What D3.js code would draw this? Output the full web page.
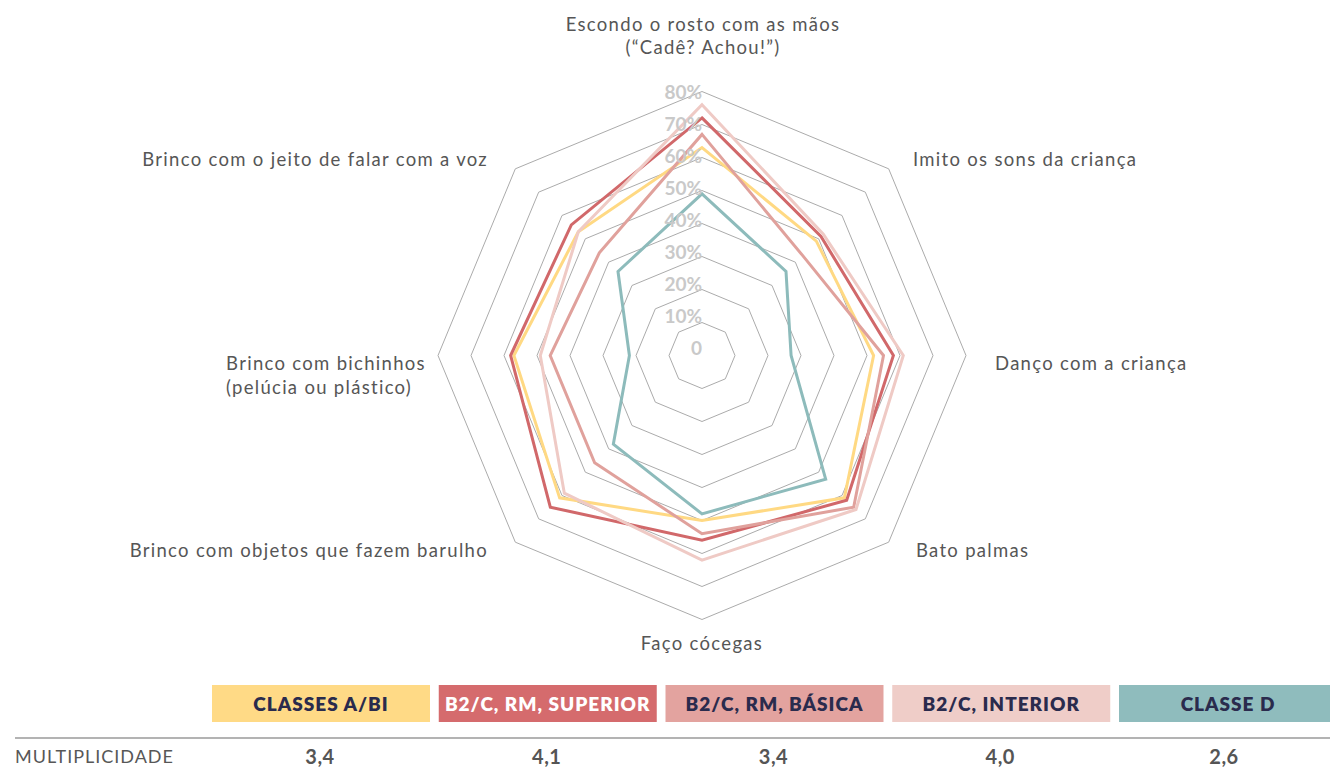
<!DOCTYPE html>
<html>
<head>
<meta charset="utf-8">
<script src="https://cdn.jsdelivr.net/npm/d3@7"></script>
<style>
  html, body { margin: 0; padding: 0; background: #fff; }
  svg { display: block; }
  text { font-family: Lato, "Open Sans", sans-serif; }
</style>
</head>
<body>
<svg id="chart" width="1330" height="771"></svg>
<script>
// Activities (spokes, clockwise from the top)
const axes = [
  ["Escondo o rosto com as mãos", "(“Cadê? Achou!”)"],
  ["Imito os sons da criança"],
  ["Danço com a criança"],
  ["Bato palmas"],
  ["Faço cócegas"],
  ["Brinco com objetos que fazem barulho"],
  ["Brinco com bichinhos", "(pelúcia ou plástico)"],
  ["Brinco com o jeito de falar com a voz"]
];

// Share of parents (%) per group, in spoke order
const classesAB1   = [63, 49, 52, 61, 50, 61, 57, 53];
const rmSuperior   = [72, 51, 58, 62, 56, 65, 58, 56];
const rmBasica     = [67, 43, 55, 65, 54, 46, 46, 44];
const interior     = [76, 52, 61, 66, 62, 59, 49, 53];
const classeD      = [49, 36, 27, 53, 48, 38, 22, 36];

const groups = ["CLASSES A/BI", "B2/C, RM, SUPERIOR", "B2/C, RM, BÁSICA", "B2/C, INTERIOR", "CLASSE D"];
const multiplicidade = ["3,4", "4,1", "3,4", "4,0", "2,6"];

const ringTicks = [10, 20, 30, 40, 50, 60, 70, 80];
const tickLabels = ["0", "10%", "20%", "30%", "40%", "50%", "60%", "70%", "80%"];
const tickValues = [0, 10, 20, 30, 40, 50, 60, 70, 80];

const seriesValues = [classesAB1, rmSuperior, rmBasica, interior, classeD];
const lineColors = ["#FFD983", "#D1686A", "#E0A19C", "#EFCAC5", "#8DBBBB"];
const boxColors  = ["#FFDA86", "#D56B6D", "#E3A39F", "#EFCDC8", "#8FBCBD"];
const boxText    = ["#2A2B4D", "#FFFFFF", "#2A2B4D", "#2A2B4D", "#2A2B4D"];

const svg = d3.select("#chart");
const cx = 702, cy = 355.5;

const r = d3.scaleLinear().domain([0, 80]).range([0, 264]);
const angle = d3.scaleLinear().domain([0, axes.length]).range([0, 2 * Math.PI]);
const tickY = d3.scaleLinear().domain([0, 80]).range([348, 92.5]);

const g = svg.append("g").attr("transform", `translate(${cx},${cy})`);

const radial = d3.lineRadial()
  .angle((d, i) => angle(i))
  .radius(d => r(d))
  .curve(d3.curveLinearClosed);

// Grid rings (octagons)
g.selectAll("path.ring")
  .data(ringTicks)
  .join("path")
  .attr("class", "ring")
  .attr("d", t => radial(axes.map(() => t)))
  .attr("fill", "none")
  .attr("stroke", "#ababab")
  .attr("stroke-width", 1);

// Ring labels along the top spoke
svg.append("g")
  .selectAll("text")
  .data(tickValues)
  .join("text")
  .attr("x", cx)
  .attr("y", d => tickY(d))
  .attr("dy", "0.36em")
  .attr("text-anchor", "end")
  .attr("font-size", 19)
  .attr("font-weight", 700)
  .attr("fill", "#c9c9c9")
  .text((d, i) => tickLabels[i]);

// Group polygons
g.selectAll("path.series")
  .data(seriesValues)
  .join("path")
  .attr("class", "series")
  .attr("d", d => radial(d))
  .attr("fill", "none")
  .attr("stroke", (d, i) => lineColors[i])
  .attr("stroke-width", 3)
  .attr("stroke-linejoin", "miter");

// Spoke labels
const labelPos = [
  { x: 703, y: 25, anchor: "middle", lh: 23 },
  { x: 913, y: 160, anchor: "start", lh: 23 },
  { x: 995, y: 364, anchor: "start", lh: 23 },
  { x: 916, y: 551, anchor: "start", lh: 23 },
  { x: 702, y: 644, anchor: "middle", lh: 23 },
  { x: 488, y: 551, anchor: "end", lh: 23 },
  { x: 326, y: 364, anchor: "middle", lh: 24, x2: 319 },
  { x: 488, y: 160, anchor: "end", lh: 23 }
];

const labels = svg.append("g");
axes.forEach((lines, i) => {
  const p = labelPos[i];
  const t = labels.append("text")
    .attr("text-anchor", p.anchor)
    .attr("font-size", 18.5)
    .attr("letter-spacing", 1.3)
    .attr("fill", "#565656");
  lines.forEach((line, j) => {
    t.append("tspan")
      .attr("x", j > 0 && p.x2 ? p.x2 : p.x)
      .attr("y", p.y + j * p.lh)
      .attr("dy", "0.35em")
      .text(line);
  });
});

// Legend boxes and multiplicity row
const col = d3.scaleBand().domain(groups).range([212, 1337]).paddingInner(0.0386).paddingOuter(0);

const legend = svg.append("g");
legend.selectAll("rect")
  .data(groups)
  .join("rect")
  .attr("x", d => col(d))
  .attr("y", 685)
  .attr("width", col.bandwidth())
  .attr("height", 37)
  .attr("fill", (d, i) => boxColors[i]);

legend.selectAll("text.grp")
  .data(groups)
  .join("text")
  .attr("class", "grp")
  .attr("x", d => col(d) + col.bandwidth() / 2)
  .attr("y", 704)
  .attr("dy", "0.35em")
  .attr("text-anchor", "middle")
  .attr("font-size", 19)
  .attr("letter-spacing", 1)
  .attr("font-weight", 800)
  .attr("fill", (d, i) => boxText[i])
  .text(d => d);

svg.append("line")
  .attr("x1", 15).attr("x2", 1330)
  .attr("y1", 738).attr("y2", 738)
  .attr("stroke", "#9a9a9a")
  .attr("stroke-width", 1.5);

svg.append("text")
  .attr("x", 15)
  .attr("y", 757)
  .attr("dy", "0.35em")
  .attr("font-size", 18)
  .attr("letter-spacing", 1)
  .attr("fill", "#575757")
  .text("MULTIPLICIDADE");

svg.append("g")
  .selectAll("text")
  .data(groups)
  .join("text")
  .attr("x", (d, i) => col(d) + col.bandwidth() / 2 - (i === groups.length - 1 ? 4 : 1))
  .attr("y", 757)
  .attr("dy", "0.35em")
  .attr("text-anchor", "middle")
  .attr("font-size", 20)
  .attr("font-weight", 700)
  .attr("letter-spacing", 0.5)
  .attr("fill", "#555555")
  .text((d, i) => multiplicidade[i]);
</script>
</body>
</html>
